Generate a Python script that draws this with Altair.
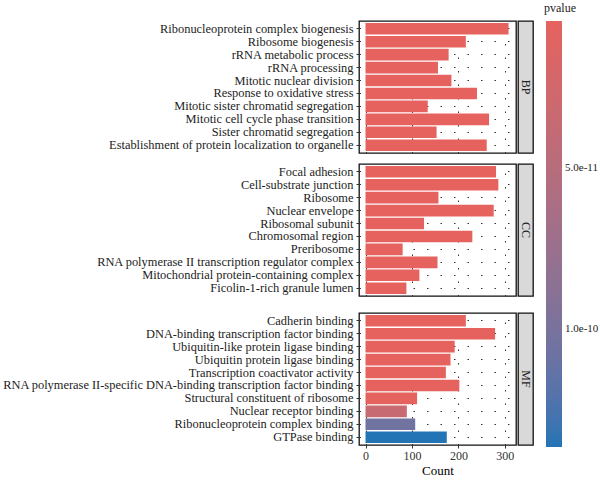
import altair as alt
import pandas as pd

FONT = "Liberation Serif"

bp_terms = [
    "Ribonucleoprotein complex biogenesis",
    "Ribosome biogenesis",
    "rRNA metabolic process",
    "rRNA processing",
    "Mitotic nuclear division",
    "Response to oxidative stress",
    "Mitotic sister chromatid segregation",
    "Mitotic cell cycle phase transition",
    "Sister chromatid segregation",
    "Establishment of protein localization to organelle",
]
bp_counts = [308, 216, 179, 156, 185, 240, 134, 266, 153, 261]
bp_pvalues = [4.3e-12, 4.3e-12, 4.3e-12, 4.3e-12, 4.3e-12, 4.4e-12, 4.3e-12, 4.4e-12, 4.3e-12, 4.5e-12]

cc_terms = [
    "Focal adhesion",
    "Cell-substrate junction",
    "Ribosome",
    "Nuclear envelope",
    "Ribosomal subunit",
    "Chromosomal region",
    "Preribosome",
    "RNA polymerase II transcription regulator complex",
    "Mitochondrial protein-containing complex",
    "Ficolin-1-rich granule lumen",
]
cc_counts = [281, 286, 157, 276, 126, 230, 80, 155, 116, 88]
cc_pvalues = [4.3e-12, 4.3e-12, 4.3e-12, 4.4e-12, 4.3e-12, 4.4e-12, 4.3e-12, 4.5e-12, 4.5e-12, 4.6e-12]

mf_terms = [
    "Cadherin binding",
    "DNA-binding transcription factor binding",
    "Ubiquitin-like protein ligase binding",
    "Ubiquitin protein ligase binding",
    "Transcription coactivator activity",
    "RNA polymerase II-specific DNA-binding transcription factor binding",
    "Structural constituent of ribosome",
    "Nuclear receptor binding",
    "Ribonucleoprotein complex binding",
    "GTPase binding",
]
mf_counts = [216, 279, 192, 183, 173, 202, 111, 89, 107, 175]
mf_pvalues = [4.5e-12, 4.6e-12, 4.7e-12, 4.8e-12, 5.0e-12, 5.2e-12, 6.0e-12, 3.5e-11, 1.05e-10, 1.366e-10]

ontologies = ["BP", "CC", "MF"]

all_p = bp_pvalues + cc_pvalues + mf_pvalues
p_min, p_max = min(all_p), max(all_p)

# descending domain so the smallest p-value (red) sits at the top of the legend
color_scale = alt.Scale(domain=[p_max, p_min], range=["#2374B5", "#E6625E"],
                        interpolate="lab", nice=False, zero=False)
x_scale = alt.Scale(domain=[-14, 324], nice=False, zero=False)

PANEL_W = 157
PANEL_H = 132


def panel(name, terms, counts, pvals, show_x):
    df = pd.DataFrame({"Description": terms, "Count": counts, "pvalue": pvals})
    if show_x:
        xaxis = alt.Axis(values=[0, 100, 200, 300], grid=True, gridDash=[1.5, 12],
                         gridColor="#333333", gridWidth=1, ticks=True, tickSize=3,
                         tickColor="#333333", labelFont=FONT, labelFontSize=12,
                         labelColor="#333333", title="Count", titleFont=FONT,
                         titleFontSize=13, titleFontWeight="normal", titleColor="#000000",
                         domain=False, labelPadding=2, titlePadding=3)
    else:
        xaxis = alt.Axis(values=[0, 100, 200, 300], grid=True, gridDash=[1.5, 12],
                         gridColor="#333333", gridWidth=1, ticks=False, labels=False,
                         title=None, domain=False)
    bars = alt.Chart(df).mark_bar().encode(
        x=alt.X("Count:Q", scale=x_scale, axis=xaxis),
        y=alt.Y("Description:N", sort=terms,
                scale=alt.Scale(paddingInner=0.1, paddingOuter=0.15),
                axis=alt.Axis(title=None, labelFont=FONT, labelFontSize=12.4,
                              labelColor="#222222", tickSize=3, tickColor="#333333",
                              labelPadding=3, domain=False, grid=True,
                              gridDash=[1.5, 12], gridColor="#333333", gridWidth=1,
                              labelLimit=400)),
        color=alt.Color("pvalue:Q", scale=color_scale,
                        legend=alt.Legend(title=None, values=[5e-11, 1e-10],
                                          format=".1e", gradientLength=426,
                                          gradientThickness=16,
                                          labelFont=FONT, labelFontSize=11,
                                          labelColor="#222222",
                                          offset=12, padding=0,
                                          gradientStrokeWidth=0, labelOffset=3)),
    ).properties(width=PANEL_W, height=PANEL_H,
                 view=alt.ViewBackground(stroke="#111111", strokeWidth=1.3))
    sdf = pd.DataFrame({"ont": [name]})
    strip = alt.Chart(sdf).mark_text(angle=90, font=FONT, fontSize=12, color="#222222").encode(
        text="ont:N", x=alt.value(7.5), y=alt.value(PANEL_H / 2)
    ).properties(width=15, height=PANEL_H,
                 view=alt.ViewBackground(fill="#D9D9D9", stroke="#111111", strokeWidth=1.3))
    return alt.hconcat(bars, strip, spacing=0)


p_bp = panel("BP", bp_terms, bp_counts, bp_pvalues, False)
p_cc = panel("CC", cc_terms, cc_counts, cc_pvalues, False)
p_mf = panel("MF", mf_terms, mf_counts, mf_pvalues, True)

top = alt.vconcat(p_bp, p_cc, spacing=9)
chart = alt.vconcat(top, p_mf, spacing=15).resolve_scale(color="shared").properties(
    padding={"left": 1, "top": 2, "right": 0, "bottom": 0},
    title=alt.TitleParams("pvalue", anchor="end", frame="bounds", font=FONT,
                          fontSize=12, fontWeight="normal", color="#222222",
                          dx=-23, offset=5),
).configure_concat(spacing=0)

chart.save("out.html", embed_options={"renderer": "svg", "actions": False})
